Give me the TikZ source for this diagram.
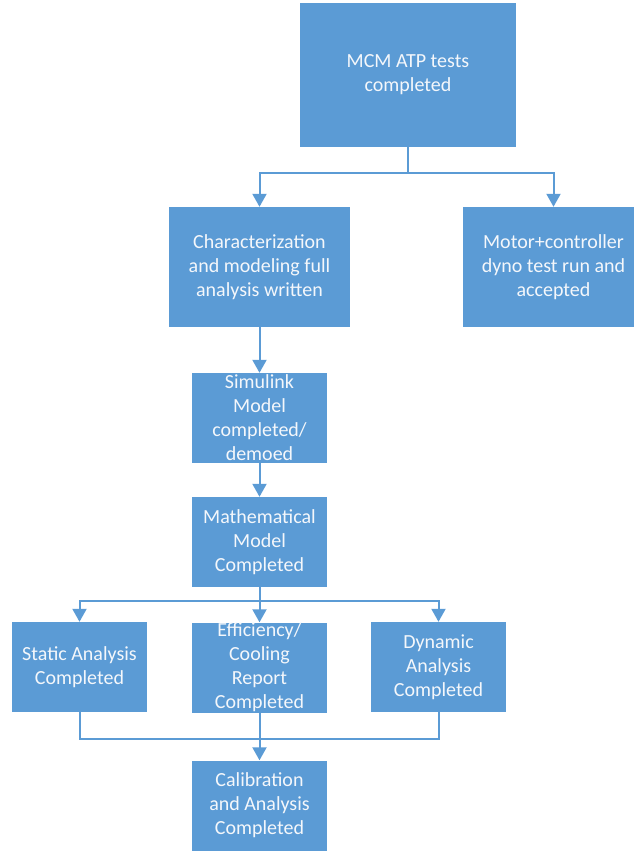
\documentclass[tikz,border=0pt]{standalone}
\usepackage{fontspec}
\setmainfont{Carlito}
\usetikzlibrary{arrows.meta}
\definecolor{boxblue}{HTML}{5B9BD5}
\definecolor{boxtext}{HTML}{F4F7FB}
\begin{document}
\begin{tikzpicture}[x=1pt,y=-1pt,
  stepbox/.style={fill=boxblue, draw=none, text=boxtext, align=center,
    inner sep=0pt, font=\fontsize{20}{24}\selectfont},
  link/.style={draw=boxblue, line width=2pt},
  arrowlink/.style={link, -{Triangle[width=14pt,length=13pt]}}]
  \useasboundingbox (0,0) rectangle (634,851);
  \clip (0,0) rectangle (634,851);

  % boxes
  \node[stepbox, minimum width=216pt, minimum height=144pt] (b1) at (408,75)
    {MCM ATP tests\\completed};
  \node[stepbox, minimum width=181pt, minimum height=120pt] (b2) at (259.5,267)
    {Characterization\\and modeling full\\analysis written};
  \node[stepbox, minimum width=181pt, minimum height=120pt] (b3) at (553.5,267)
    {Motor+controller\\dyno test run and\\accepted};
  \node[stepbox, minimum width=135pt, minimum height=90pt] (b4) at (259.5,418)
    {Simulink\\Model\\completed/\\demoed};
  \node[stepbox, minimum width=135pt, minimum height=90pt] (b5) at (259.5,542)
    {Mathematical\\Model\\Completed};
  \node[stepbox, minimum width=135pt, minimum height=90pt] (b6) at (79.5,667)
    {Static Analysis\\Completed};
  \node[stepbox, minimum width=135pt, minimum height=90pt] (b7) at (259.5,667.5)
    {Efficiency/\\Cooling\\Report\\Completed};
  \node[stepbox, minimum width=135pt, minimum height=90pt] (b8) at (438.5,667)
    {Dynamic\\Analysis\\Completed};
  \node[stepbox, minimum width=135pt, minimum height=90pt] (b9) at (259.5,805.5)
    {Calibration\\and Analysis\\Completed};

  % junction points
  \coordinate (j1) at (408,173);
  \coordinate (j2) at (259.5,601);
  \coordinate (m6) at (79.5,739);
  \coordinate (m8) at (438.5,739);

  % connectors
  \draw[link] (b1.south) -- (j1);
  \draw[arrowlink] (j1) -| (b2.north);
  \draw[arrowlink] (j1) -| (b3.north);
  \draw[arrowlink] (b2.south) -- (b4.north);
  \draw[arrowlink] (b4.south) -- (b5.north);
  \draw[link] (b5.south) -- (j2);
  \draw[arrowlink] (j2) -| (b6.north);
  \draw[arrowlink] (j2) -| (b8.north);
  \draw[arrowlink] (j2) -- (b7.north);
  \draw[link] (b6.south) -- (m6) -- (m8) -- (b8.south);
  \draw[arrowlink] (b7.south) -- (b9.north);
\end{tikzpicture}
\end{document}
